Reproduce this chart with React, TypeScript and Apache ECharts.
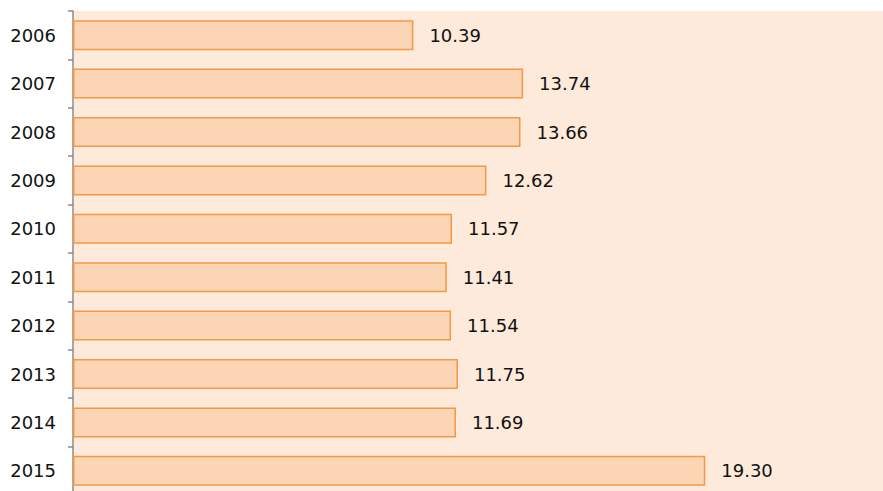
import React, { useEffect, useRef } from "react";
import * as echarts from "echarts";

const categories = ["2006", "2007", "2008", "2009", "2010", "2011", "2012", "2013", "2014", "2015"];
const values = [10.39, 13.74, 13.66, 12.62, 11.57, 11.41, 11.54, 11.75, 11.69, 19.3];

export default function App() {
  const ref = useRef<HTMLDivElement>(null);
  useEffect(() => {
    const chart = echarts.init(ref.current!, null, { renderer: "svg" });
    chart.setOption({
      animation: false,
      grid: {
        left: 73,
        top: 11,
        width: 819,
        height: 484,
        backgroundColor: "#FDEADA",
        show: true,
        borderWidth: 0,
        containLabel: false,
        outerBoundsMode: "none",
      },
      xAxis: {
        type: "value",
        min: 0,
        max: 25,
        show: false,
      },
      yAxis: {
        type: "category",
        data: categories,
        inverse: true,
        axisLine: { show: true, lineStyle: { color: "#8c8c8c", width: 1.5 } },
        axisTick: { show: true, length: 5, lineStyle: { color: "#8c8c8c", width: 1.5 } },
        axisLabel: { color: "#111", fontSize: 18, fontFamily: "DejaVu Sans", margin: 17 },
        splitLine: { show: false },
      },
      series: [
        {
          type: "bar",
          data: values,
          barCategoryGap: "38%",
          itemStyle: { color: "#FCD5B5", borderColor: "#F79646", borderWidth: 1.5 },
          label: {
            show: true,
            position: "right",
            distance: 16,
            color: "#111",
            fontSize: 18,
            fontFamily: "DejaVu Sans",
            formatter: (p: any) => p.value.toFixed(2),
          },
        },
      ],
    });
    return () => chart.dispose();
  }, []);
  return <div ref={ref} style={{ width: 883, height: 491, position: "absolute", left: 0, top: 0 }} />;
}
